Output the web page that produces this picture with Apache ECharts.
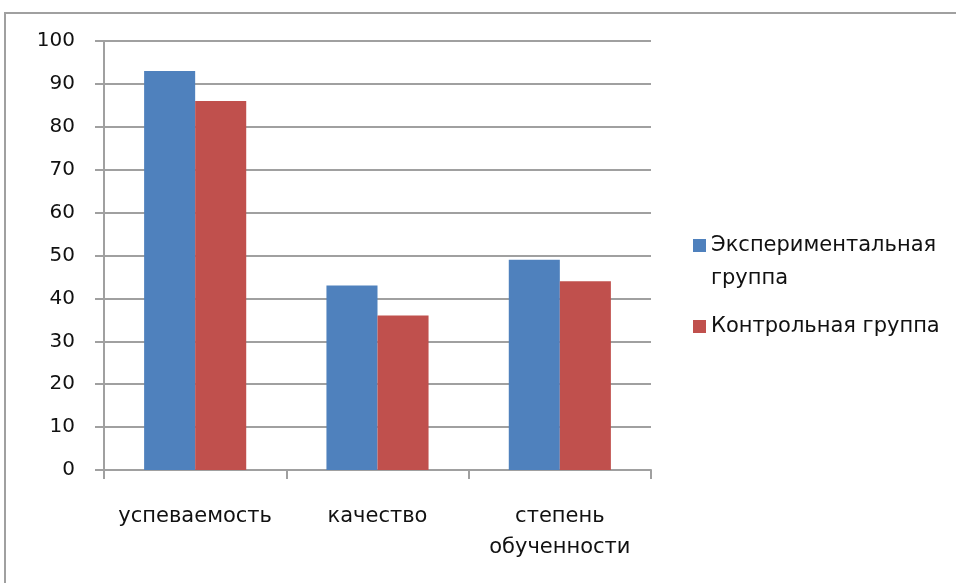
<!DOCTYPE html>
<html>
<head>
<meta charset="utf-8">
<script src="https://cdn.jsdelivr.net/npm/echarts@6/dist/echarts.min.js"></script>
<style>
  html, body { margin: 0; padding: 0; background: #fff; }
  #chart { width: 956px; height: 583px; }
</style>
</head>
<body>
<div id="chart"></div>
<script>
// categories and values
var categories = ['успеваемость', 'качество', 'степень\nобученности'];
var seriesNames = ['Экспериментальная группа', 'Контрольная группа'];
var experimental = [93, 43, 49];
var control = [86, 36, 44];
var yTicks = [0, 10, 20, 30, 40, 50, 60, 70, 80, 90, 100];

var font = 'Tahoma, "DejaVu Sans", sans-serif';
var gray = '#a0a0a0';

var myChart = echarts.init(document.getElementById('chart'));

myChart.setOption({
    animation: false,
    textStyle: {fontFamily: font},
    graphic: [
        {
            type: 'rect',
            shape: {x: 5, y: 13, width: 1000, height: 1000},
            style: {fill: 'none', stroke: gray, lineWidth: 2},
            silent: true
        }
    ],
    grid: {
        left: 104,
        right: 305,
        top: 41,
        bottom: 113
    },
    legend: {
        orient: 'vertical',
        left: 693,
        top: 196,
        padding: 0,
        itemWidth: 13,
        itemHeight: 13,
        itemGap: 15,
        icon: 'rect',
        textStyle: {
            fontFamily: font,
            fontSize: 21,
            color: '#111',
            lineHeight: 33
        },
        // first line left empty so the square sits next to the first word
        formatter: function (name) {
            if (name === seriesNames[0]) {
                return '\nЭкспериментальная\nгруппа';
            }
            return name;
        },
        data: seriesNames
    },
    xAxis: [
        {
            type: 'category',
            data: categories,
            axisLine: {lineStyle: {color: gray, width: 2}},
            axisTick: {show: true, interval: 0, length: 9, lineStyle: {color: gray, width: 2}},
            axisLabel: {
                interval: 0,
                color: '#111',
                fontSize: 21,
                fontFamily: font,
                margin: 31,
                lineHeight: 31
            }
        }
    ],
    yAxis: [
        {
            type: 'value',
            min: yTicks[0],
            max: yTicks[yTicks.length - 1],
            interval: 10,
            axisLine: {show: true, lineStyle: {color: gray, width: 2}},
            axisTick: {show: true, length: 9, lineStyle: {color: gray, width: 2}},
            splitLine: {lineStyle: {color: gray, width: 2}},
            axisLabel: {
                color: '#111',
                fontSize: 20,
                fontFamily: font,
                margin: 29
            }
        }
    ],
    series: [
        {
            name: seriesNames[0],
            type: 'bar',
            data: experimental,
            barGap: '0%',
            barCategoryGap: '44%',
            itemStyle: {color: '#4f81bd'}
        },
        {
            name: seriesNames[1],
            type: 'bar',
            data: control,
            itemStyle: {color: '#c0504d'}
        }
    ]
});
</script>
</body>
</html>
